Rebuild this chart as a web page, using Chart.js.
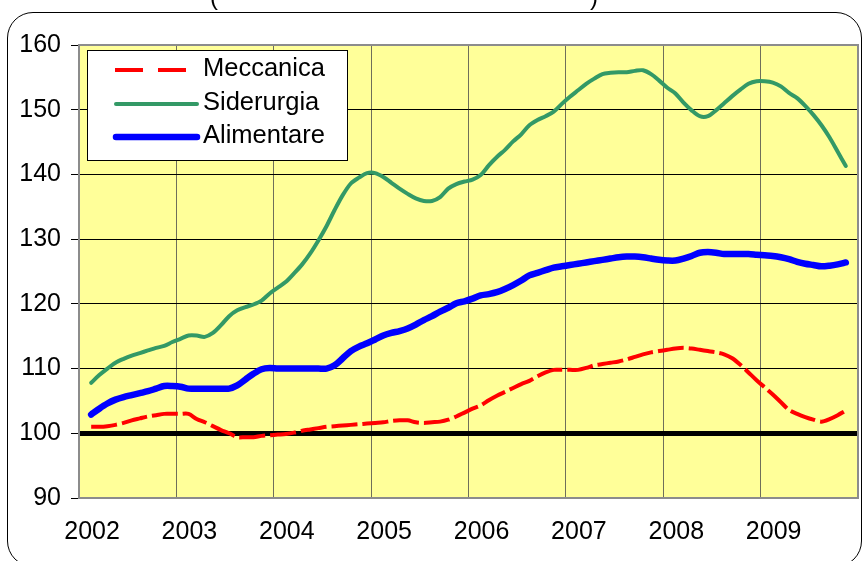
<!DOCTYPE html>
<html>
<head>
<meta charset="utf-8">
<script src="https://cdn.jsdelivr.net/npm/chart.js@4.4.1/dist/chart.umd.min.js"></script>
<style>
    html, body { margin: 0; padding: 0; background: #fff; }
    #wrap { position: relative; width: 862px; height: 561px; overflow: hidden; }
    #chart { position: absolute; left: 0; top: 0; }
    .frame {
        position: absolute; left: 7px; top: 12px; width: 853px; height: 553px;
        border: 1.5px solid #000; border-radius: 26px; pointer-events: none;
    }
    .paren { position: absolute; top: -17px; font: 24px Arial, "Liberation Sans", sans-serif; line-height: 28px; color: #000; }
</style>
</head>
<body>
<div id="wrap">
    <canvas id="chart" width="862" height="561"></canvas>
    <div class="frame"></div>
    <span class="paren" style="left:210px">(</span>
    <span class="paren" style="left:590px">)</span>
</div>
<script>
// years shown on the x axis, data is monthly (Jan 2002 .. Dec 2009)
const years = ['2002', '2003', '2004', '2005', '2006', '2007', '2008', '2009'];
const yTicks = [90, 100, 110, 120, 130, 140, 150, 160];

const meccanica = [null,
    101.0, 101.0, 101.1, 101.3, 101.6, 102.0, 102.3, 102.6, 102.8, 103.0, 103.0,
    103.0, 103.0, 102.2, 101.7, 101.1, 100.5, 100.0, 99.4, 99.4, 99.4, 99.6, 99.7,
    99.8, 99.9, 100.1, 100.4, 100.6, 100.8, 101.0, 101.1, 101.2, 101.3, 101.4, 101.5,
    101.6, 101.7, 101.9, 102.0, 102.0, 101.7, 101.6, 101.7, 101.8, 102.1, 102.6, 103.2,
    103.8, 104.3, 105.1, 105.8, 106.4, 107.0, 107.6, 108.1, 108.8, 109.4, 109.8, 109.8,
    109.8, 109.8, 110.1, 110.5, 110.7, 110.9, 111.1, 111.4, 111.8, 112.2, 112.5, 112.7,
    112.9, 113.1, 113.2, 113.1, 112.9, 112.7, 112.5, 112.2, 111.6, 110.6, 109.4, 108.2,
    107.1, 106.0, 104.8, 103.6, 103.0, 102.5, 102.1, 101.8, 102.2, 102.8, 103.5, null];

const siderurgia = [null,
    107.8, 109.0, 110.0, 110.9, 111.5, 112.0, 112.4, 112.8, 113.2, 113.5, 114.1,
    114.6, 115.1, 115.1, 114.9, 115.5, 116.7, 118.1, 119.0, 119.5, 119.9, 120.5, 121.6,
    122.5, 123.4, 124.7, 126.1, 127.8, 129.8, 132.0, 134.5, 136.8, 138.6, 139.5, 140.2,
    140.2, 139.6, 138.7, 137.8, 137.0, 136.3, 135.9, 135.9, 136.5, 137.8, 138.5, 138.9,
    139.2, 139.9, 141.4, 142.7, 143.8, 145.1, 146.2, 147.6, 148.4, 149.0, 149.7, 150.9,
    152.0, 153.0, 154.0, 154.8, 155.5, 155.7, 155.8, 155.8, 156.0, 156.1, 155.5, 154.5,
    153.4, 152.5, 151.1, 149.9, 149.0, 149.0, 149.9, 151.0, 152.1, 153.1, 154.0, 154.4,
    154.4, 154.2, 153.6, 152.6, 151.8, 150.6, 149.2, 147.6, 145.7, 143.5, 141.3, null];

const alimentare = [null,
    102.9, 103.8, 104.6, 105.2, 105.6, 105.9, 106.2, 106.5, 106.9, 107.3, 107.3,
    107.2, 106.9, 106.9, 106.9, 106.9, 106.9, 106.9, 107.4, 108.3, 109.2, 109.9, 110.1,
    110.0, 110.0, 110.0, 110.0, 110.0, 110.0, 110.0, 110.5, 111.6, 112.7, 113.4, 113.9,
    114.5, 115.1, 115.5, 115.8, 116.2, 116.8, 117.5, 118.1, 118.8, 119.4, 120.1, 120.4,
    120.8, 121.3, 121.5, 121.8, 122.3, 122.9, 123.6, 124.4, 124.8, 125.2, 125.6, 125.8,
    126.0, 126.2, 126.4, 126.6, 126.8, 127.0, 127.2, 127.3, 127.3, 127.2, 127.0, 126.8,
    126.7, 126.7, 127.0, 127.4, 127.9, 128.0, 127.9, 127.7, 127.7, 127.7, 127.7, 127.6,
    127.5, 127.4, 127.2, 126.9, 126.5, 126.2, 126.0, 125.8, 125.9, 126.1, 126.4, null];

// month labels, only January carries the year
const labels = [];
years.forEach(function (y) {
    for (let m = 0; m < 12; m++) labels.push(m === 0 ? y : '');
});

const FONT = 'Arial, "Liberation Sans", sans-serif';

// yellow plot background + grey frame round the plot
const plotFrame = {
    id: 'plotFrame',
    beforeDraw(chart) {
        const a = chart.chartArea, c = chart.ctx;
        c.save();
        c.fillStyle = '#FFFF99';
        c.fillRect(a.left, a.top, a.right - a.left, a.bottom - a.top);
        c.restore();
    },
    afterDatasetsDraw(chart) {
        const a = chart.chartArea, c = chart.ctx;
        c.save();
        c.strokeStyle = '#8c8c8c';
        c.lineWidth = 2;
        c.strokeRect(a.left, a.top, a.right - a.left, a.bottom - a.top);
        c.restore();
    }
};

// legend box inside the plot, top left
const boxLegend = {
    id: 'boxLegend',
    afterDraw(chart) {
        const c = chart.ctx;
        const x = 87, y = 50, w = 260, h = 110;
        c.save();
        c.fillStyle = '#fff';
        c.fillRect(x, y, w, h);
        c.strokeStyle = '#000';
        c.lineWidth = 1;
        c.strokeRect(x + 0.5, y + 0.5, w, h);
        const rows = [70, 104, 137];
        chart.data.datasets.forEach(function (ds, i) {
            const ry = rows[i];
            c.strokeStyle = ds.borderColor;
            c.lineWidth = ds.borderWidth;
            c.lineCap = ds.borderDash ? 'butt' : 'round';
            c.setLineDash(ds.borderDash ? [28, 15] : []);
            c.beginPath();
            c.moveTo(ds.borderDash ? 115 : 116, ry);
            c.lineTo(ds.borderDash ? 198 : 197, ry);
            c.stroke();
            c.setLineDash([]);
            c.fillStyle = '#000';
            c.font = '25.5px ' + FONT;
            c.textBaseline = 'middle';
            c.fillText(ds.label, 203, ry - 1);
        });
        c.restore();
    }
};

new Chart(document.getElementById('chart'), {
    type: 'line',
    data: {
        labels: labels,
        datasets: [
            {
                label: 'Meccanica',
                data: meccanica,
                borderColor: '#FF0000',
                borderWidth: 4,
                borderDash: [26, 5],
                tension: 0.3,
                pointRadius: 0,
                fill: false
            },
            {
                label: 'Siderurgia',
                data: siderurgia,
                borderColor: '#339966',
                borderWidth: 4,
                borderCapStyle: 'round',
                tension: 0.3,
                pointRadius: 0,
                fill: false
            },
            {
                label: 'Alimentare',
                data: alimentare,
                borderColor: '#0000FF',
                borderWidth: 6.5,
                borderCapStyle: 'round',
                tension: 0.3,
                pointRadius: 0,
                fill: false
            }
        ]
    },
    options: {
        responsive: false,
        animation: false,
        layout: { padding: { top: 45, right: 4, left: 0, bottom: 0 } },
        plugins: {
            legend: { display: false },
            tooltip: { enabled: false }
        },
        scales: {
            x: {
                type: 'category',
                offset: true,
                afterFit: function (s) { s.height = 63; },
                border: { display: false },
                grid: {
                    offset: true,
                    drawTicks: true,
                    tickLength: 15,
                    tickColor: 'rgba(0,0,0,0)',
                    lineWidth: 1,
                    color: function (ctx) {
                        return ctx.index !== undefined && ctx.index % 12 === 0 && ctx.index > 0 ? '#6f6f5a' : 'rgba(0,0,0,0)';
                    }
                },
                ticks: {
                    autoSkip: false,
                    maxRotation: 0,
                    minRotation: 0,
                    padding: 4,
                    labelOffset: 9,
                    color: '#000',
                    font: { family: FONT, size: 25 }
                }
            },
            y: {
                min: yTicks[0],
                max: yTicks[yTicks.length - 1],
                afterFit: function (s) { s.width = 79; },
                afterBuildTicks: function (s) { s.ticks = yTicks.map(v => ({ value: v })); },
                border: { display: false },
                grid: {
                    color: '#000',
                    lineWidth: function (ctx) {
                        return ctx.tick && ctx.tick.value === 100 ? 5 : 1;
                    },
                    tickLength: 8,
                    tickWidth: 1,
                    tickColor: '#000'
                },
                ticks: {
                    padding: 10,
                    color: '#000',
                    font: { family: FONT, size: 25 }
                }
            }
        }
    },
    plugins: [plotFrame, boxLegend]
});
</script>
</body>
</html>
